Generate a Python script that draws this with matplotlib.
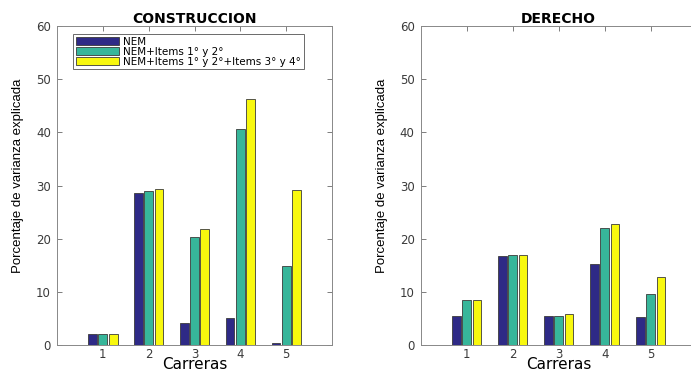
import matplotlib
matplotlib.use("Agg")
import matplotlib.pyplot as plt
import numpy as np

# ── Data ──────────────────────────────────────────────────────────────────────
carreras = [1, 2, 3, 4, 5]
series_labels = ["NEM", "NEM+Items 1° y 2°", "NEM+Items 1° y 2°+Items 3° y 4°"]

construccion_nem = [2.0, 28.6, 4.2, 5.0, 0.4]
construccion_12 = [2.0, 29.0, 20.4, 40.6, 14.8]
construccion_1234 = [2.0, 29.3, 21.9, 46.2, 29.1]

derecho_nem = [5.4, 16.7, 5.4, 15.2, 5.3]
derecho_12 = [8.4, 16.9, 5.4, 22.0, 9.6]
derecho_1234 = [8.4, 16.9, 5.9, 22.7, 12.7]

y_ticks = [0, 10, 20, 30, 40, 50, 60]
# ─────────────────────────────────────────────────────────────────────────────

COLORS = ["#2E2A86", "#37B69A", "#F8F80E"]
EDGE = "#3a3a3a"
AX_COLOR = "#4a4a4a"

plt.rcParams["font.family"] = ["DejaVu Sans"]

fig = plt.figure(figsize=(6.91, 3.69), dpi=100)
ax_l = fig.add_axes([0.0825, 0.065, 0.398, 0.8645])
ax_r = fig.add_axes([0.609, 0.065, 0.399, 0.8645])

panels = [
    (ax_l, "CONSTRUCCION", [construccion_nem, construccion_12, construccion_1234]),
    (ax_r, "DERECHO", [derecho_nem, derecho_12, derecho_1234]),
]

x = np.array(carreras)
offset = 0.225
bar_w = 0.19

for ax, title, series in panels:
    handles = []
    for i, vals in enumerate(series):
        h = ax.bar(x + (i - 1) * offset, vals, bar_w, color=COLORS[i],
                   edgecolor=EDGE, linewidth=0.6, zorder=3)
        handles.append(h)

    ax.set_xlim(0, 6)
    ax.set_ylim(0, 60)
    ax.set_xticks(carreras)
    ax.set_yticks(y_ticks)
    ax.tick_params(direction="in", length=3.5, width=0.5, colors=AX_COLOR,
                   labelsize=8.5, top=True, right=True, pad=4.5)
    ax.tick_params(axis="x", pad=2.5)
    for lbl in ax.get_xticklabels() + ax.get_yticklabels():
        lbl.set_color("#3a3a3a")
    for spine in ax.spines.values():
        spine.set_color("#888888")
        spine.set_linewidth(0.7)

    ax.set_title(title, fontsize=10, fontweight="bold", pad=2)
    ax.set_xlabel("Carreras", fontsize=11, va="baseline")
    ax.xaxis.set_label_coords(0.5, -0.074)
    ax.set_ylabel("Porcentaje de varianza explicada", fontsize=9.5,
                  family=["Liberation Sans Narrow", "Liberation Sans"])
    ax.yaxis.set_label_coords(-0.12, 0.53)

    if ax is ax_l:
        leg = ax.legend(handles, series_labels, loc="upper left",
                        bbox_to_anchor=(0.058, 0.975), fontsize=7.5,
                        frameon=True, fancybox=False, handlelength=4.2,
                        handleheight=0.7, handletextpad=0.4, borderpad=0.25,
                        labelspacing=0.0, borderaxespad=0)
        leg.get_frame().set_edgecolor("#444444")
        leg.get_frame().set_linewidth(0.7)

fig.savefig("out.png", dpi=100)
